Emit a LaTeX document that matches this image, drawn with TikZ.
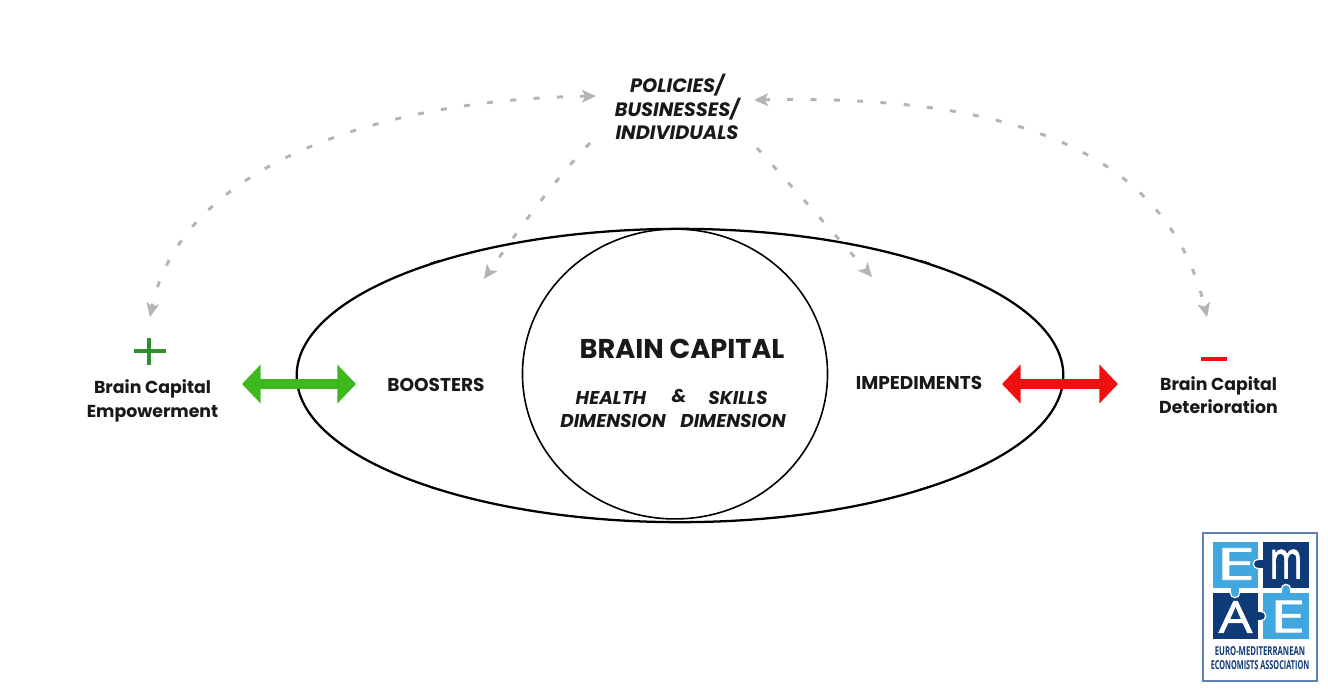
\documentclass[tikz,border=0pt]{standalone}
\usepackage{fontspec}
\setmainfont{Poppins}
\newfontfamily\logofont{Open Sans}
\newfontfamily\logoheavy[FakeBold=1.6]{Open Sans}
\usetikzlibrary{arrows.meta,shapes.geometric}
\definecolor{grn}{HTML}{3DB91E}
\definecolor{dgrn}{HTML}{2F8F2F}
\definecolor{redd}{HTML}{EE1010}
\definecolor{dashgray}{HTML}{B4B4B4}
\definecolor{lblue}{HTML}{41A7DF}
\definecolor{dblue}{HTML}{0F3A78}
\definecolor{frameblue}{HTML}{5F80B5}
\tikzset{
 x=0.75pt,y=-0.75pt,
 lab/.style={font=\bfseries\fontsize{13}{17.6}\selectfont,align=center,text=black!90,inner sep=0pt},
 bcaps/.style={font=\bfseries\fontsize{13.9}{17.6}\selectfont,text=black!90,inner sep=0pt},
 ital/.style={font=\bfseries\itshape\fontsize{13.9}{17.5}\selectfont,align=center,text=black!90,inner sep=0pt},
 dashconn/.style={dashgray,line width=2.2pt,dash pattern=on 4.5pt off 13pt,
   {Stealth[length=10.5pt,width=9.5pt,inset=2.5pt]}-{Stealth[length=10.5pt,width=9.5pt,inset=2.5pt]}},
 dashone/.style={dashgray,line width=2.2pt,dash pattern=on 4.5pt off 13pt,
   -{Stealth[length=10.5pt,width=9.5pt,inset=2.5pt]}},
 bigarrow/.style={line width=7.3pt,{Triangle[length=14pt,width=28.5pt]}-{Triangle[length=14pt,width=28.5pt]}},
 tab/.style={circle,inner sep=0pt,minimum size=7pt,draw=white,line width=0.9pt},
 logoletter/.style={font=\logoheavy\fontsize{33}{33}\selectfont,text=white,inner sep=0pt},
 logotext/.style={font=\logofont\bfseries\fontsize{9.2}{10.5}\selectfont,text=dblue,align=center,inner sep=0pt}
}
\begin{document}
\begin{tikzpicture}
\useasboundingbox[fill=white] (0,0) rectangle (1328,697);
% main shapes
\node[draw=black,line width=1.7pt,ellipse,minimum width=575pt,minimum height=220pt,inner sep=0pt] (outer) at (680,375.5) {};
\node[draw=black,line width=1.2pt,ellipse,minimum width=228.8pt,minimum height=217.4pt,inner sep=0pt] (circ) at (675,374) {};
\draw[black,line width=1.1pt] (430,263.5) -- (440,260.5) (920,260.5) -- (930,263.5) (430,487) -- (440,490) (920,489.5) -- (930,486.5);
% texts
\node[font=\bfseries\fontsize{20.4}{22}\selectfont,text=black!90,inner sep=0pt] (bc) at (682,349) {BRAIN CAPITAL};
\node[ital] (health) at (611,398) {HEALTH};
\node[ital] (hdim) at (613,421) {DIMENSION};
\node[ital] (amp) at (679,396) {\&};
\node[ital] (skills) at (738,398) {SKILLS};
\node[ital] (sdim) at (733,421) {DIMENSION};
\node[ital,font=\bfseries\itshape\fontsize{14.5}{17.6}\selectfont] (pol) at (677,107) {POLICIES/\\BUSINESSES/\\INDIVIDUALS};
\node[bcaps] (boost) at (436,385) {BOOSTERS};
\node[bcaps] (imped) at (919,383) {IMPEDIMENTS};
\node[lab] (emp) at (152.5,401) {Brain Capital\\Empowerment};
\node[lab] (det) at (1218.5,395) {Brain Capital\\Deterioration};
% plus / minus
\draw[dgrn,line width=2.3pt] (134,351) -- (166,351) (149,338) -- (149,365);
\draw[redd,line width=2.3pt] (1201,359) -- (1227,359);
% big arrows
\coordinate (gl) at (242,384); \coordinate (gr) at (356,384);
\coordinate (rl) at (1002,384); \coordinate (rr) at (1118,384);
\draw[bigarrow,grn] (gl) -- (gr);
\draw[bigarrow,redd] (rl) -- (rr);
% dashed
\coordinate (a1) at (596,96); \coordinate (a2) at (150,317);
\coordinate (b1) at (754,100); \coordinate (b2) at (1207,317);
\coordinate (c1) at (590,143); \coordinate (c2) at (484,279);
\coordinate (d1) at (757,148); \coordinate (d2) at (872,277);
\draw[dashconn] (a1) .. controls (370,100) and (180,170) .. (a2);
\draw[dashconn] (b1) .. controls (990,95) and (1165,140) .. (b2);
\draw[dashone] (c1) .. controls (550,185) and (515,235) .. (c2);
\draw[dashone] (d1) .. controls (795,190) and (840,240) .. (d2);
% logo
\draw[frameblue,line width=1.3pt] (1203,533) rectangle (1317,681);
\fill[lblue] (1213,542) rectangle (1258,588);
\fill[dblue] (1263,542) rectangle (1309,588);
\fill[dblue] (1213,593) rectangle (1258,639);
\fill[lblue] (1263,593) rectangle (1309,639);
\node[tab,fill=dblue] (t1) at (1258,564) {};
\fill[dblue] (1259,560) rectangle (1266,568);
\node[tab,fill=lblue] (t2) at (1235,593) {};
\fill[lblue] (1231,586) rectangle (1239,592);
\node[tab,fill=dblue] (t3) at (1261,616) {};
\fill[dblue] (1254,612) rectangle (1260,620);
\node[tab,fill=lblue] (t4) at (1286,589) {};
\fill[lblue] (1282,590) rectangle (1290,596);
\node[logoletter] (l1) at (1235.5,564) {\scalebox{1.6}[1]{E}};
\node[logoletter] (l2) at (1286,564) {\scalebox{0.8}[1.2]{m}};
\node[logoletter] (l3) at (1235.5,617) {\scalebox{1.2}[1]{A}};
\node[logoletter] (l4) at (1287.5,616.5) {\scalebox{1.45}[1]{E}};
\node[logotext] (lt) at (1260,658) {\scalebox{0.63}[1]{EURO-MEDITERRANEAN}\\\scalebox{0.595}[1]{ECONOMISTS ASSOCIATION}};
\end{tikzpicture}
\end{document}
